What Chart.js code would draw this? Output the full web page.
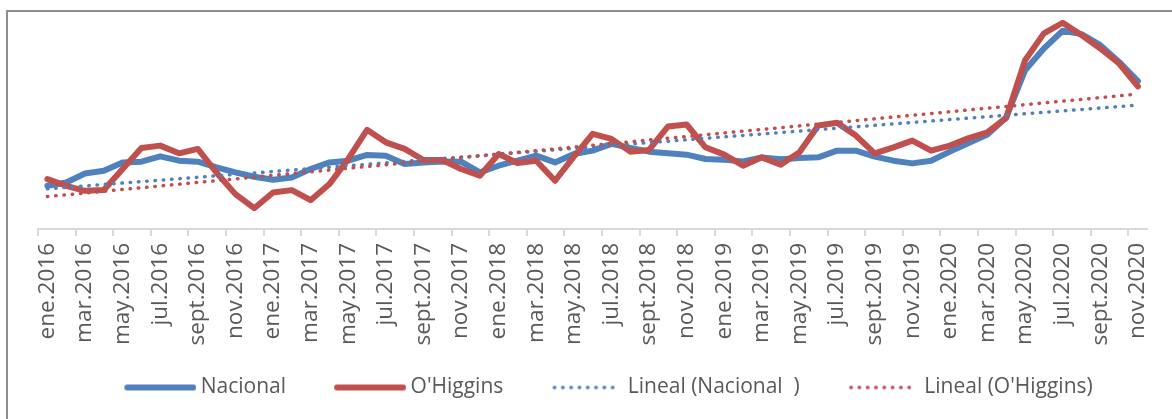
<!DOCTYPE html>
<html>
<head>
<meta charset="utf-8">
<script src="https://cdn.jsdelivr.net/npm/chart.js@4/dist/chart.umd.min.js"></script>
<style>
   body { margin:0; overflow:hidden; background:#ffffff; }
   #wrap { position:absolute; left:0; top:0; width:1172px; height:419px; }
   #frame {
      position:absolute; left:6px; top:10px;
      width:1250px; height:600px;
      border:2px solid #8e8e8e;
      pointer-events:none;
   }
</style>
</head>
<body>
<div id="wrap">
   <canvas id="grafico" width="1172" height="419"></canvas>
</div>
<div id="frame"></div>

<script>

let meses = [
   "ene.2016","feb.2016","mar.2016","abr.2016","may.2016","jun.2016",
   "jul.2016","ago.2016","sept.2016","oct.2016","nov.2016","dic.2016",
   "ene.2017","feb.2017","mar.2017","abr.2017","may.2017","jun.2017",
   "jul.2017","ago.2017","sept.2017","oct.2017","nov.2017","dic.2017",
   "ene.2018","feb.2018","mar.2018","abr.2018","may.2018","jun.2018",
   "jul.2018","ago.2018","sept.2018","oct.2018","nov.2018","dic.2018",
   "ene.2019","feb.2019","mar.2019","abr.2019","may.2019","jun.2019",
   "jul.2019","ago.2019","sept.2019","oct.2019","nov.2019","dic.2019",
   "ene.2020","feb.2020","mar.2020","abr.2020","may.2020","jun.2020",
   "jul.2020","ago.2020","sept.2020","oct.2020","nov.2020"
];

let nacional = [
   43, 46.3, 55.3, 58, 66.3, 67, 72.3, 68, 67, 61.3,
   56.3, 52, 49, 51.3, 59.7, 66.3, 68, 73.7, 73, 64.7,
   66.3, 67.3, 67, 56.3, 63, 68, 73, 66.3, 74.7, 78,
   84.7, 80.7, 77, 75.3, 74, 69.7, 69, 67.3, 71.3, 69.5,
   70.7, 71.3, 78, 78, 72, 68, 65.3, 68, 77, 85.5,
   94, 111.3, 158, 179.7, 197.3, 194, 183, 166.3, 147.3
];

let ohiggins = [
   49.7, 43, 38, 38.7, 59.7, 80.7, 83, 75.3, 79.7, 56,
   34.7, 20.7, 36.3, 38.7, 28.7, 44.7, 69.7, 98.7, 86.3, 79.7,
   68.7, 68.7, 59.7, 53, 74.7, 65.7, 68, 48, 72, 94.7,
   89.7, 77, 78.7, 102, 104, 81.3, 74, 63, 71.3, 64,
   76.3, 103, 105.7, 93, 75.3, 81.3, 88, 78, 83, 90.5,
   96.3, 110.7, 168, 194.7, 205.3, 193, 179.7, 164.7, 142
];

/* extremos de las lineas de tendencia */
let tendenciaMeses = ["ene.2016","nov.2020"];
let tendenciaNacional = [40, 123.3];
let tendenciaOHiggins = [32.3, 134.3];

let azul = "#4F81BD";
let rojo = "#C0504D";
let gris = "#595959";
let fuente = "'Open Sans', 'Noto Sans', sans-serif";

let huecoLeyenda = 26;

function puntosTendencia(valores){

   return tendenciaMeses.map(function(m, i){

      return { x: m, y: valores[i] };

   });

}

/* muestra de linea para la leyenda (con hueco transparente a la izquierda) */
function muestraLinea(color, grosor, punteado){

   let c = document.createElement("canvas");
   c.width = huecoLeyenda + 72;
   c.height = 10;

   let g = c.getContext("2d");
   g.strokeStyle = color;
   g.lineWidth = grosor;
   g.lineCap = "round";

   if(punteado) g.setLineDash([0.5, 7.8]);

   g.beginPath();
   g.moveTo(huecoLeyenda + 3, 5);
   g.lineTo(huecoLeyenda + 69, 5);
   g.stroke();

   return c;

}

let ctx = document.getElementById("grafico").getContext("2d");

new Chart(ctx, {

   type: "line",

   data: {

      labels: meses,

      datasets: [
         {
            label: "Nacional",
            data: nacional,
            borderColor: azul,
            backgroundColor: azul,
            borderWidth: 6,
            borderCapStyle: "round",
            borderJoinStyle: "round",
            pointRadius: 0,
            pointStyle: muestraLinea(azul, 6, false),
            tension: 0,
            order: 4
         },
         {
            label: "O'Higgins",
            data: ohiggins,
            borderColor: rojo,
            backgroundColor: rojo,
            borderWidth: 6,
            borderCapStyle: "round",
            borderJoinStyle: "round",
            pointRadius: 0,
            pointStyle: muestraLinea(rojo, 6, false),
            tension: 0,
            order: 3
         },
         {
            label: "Lineal (Nacional  )",
            data: puntosTendencia(tendenciaNacional),
            borderColor: azul,
            backgroundColor: azul,
            borderWidth: 3.5,
            borderDash: [0.5, 7.8],
            borderCapStyle: "round",
            pointRadius: 0,
            pointStyle: muestraLinea(azul, 3.5, true),
            order: 2
         },
         {
            label: "Lineal (O'Higgins)",
            data: puntosTendencia(tendenciaOHiggins),
            borderColor: rojo,
            backgroundColor: rojo,
            borderWidth: 3.5,
            borderDash: [0.5, 7.8],
            borderCapStyle: "round",
            pointRadius: 0,
            pointStyle: muestraLinea(rojo, 3.5, true),
            order: 1
         }
      ]

   },

   options: {

      responsive: false,
      animation: false,

      layout: {
         padding: { top: 14, left: 38, right: 13, bottom: 11 }
      },

      plugins: {

         tooltip: { enabled: false },

         legend: {
            position: "bottom",
            labels: {
               usePointStyle: true,
               /* la imagen sobresale 6px a cada lado, asi el texto queda mas cerca */
               pointStyleWidth: huecoLeyenda + 60,
               padding: 28,
               color: gris,
               font: { family: fuente, size: 21 },
               sort: function(a, b){
                  return a.datasetIndex - b.datasetIndex;
               }
            }
         }

      },

      scales: {

         x: {
            offset: true,
            afterFit: function(scale){
               scale.height = 120;
            },
            grid: {
               offset: true,
               drawOnChartArea: false,
               drawTicks: true,
               tickLength: 7,
               lineWidth: 2,
               color: function(c){
                  return c.index % 2 === 0 ? "#d9d9d9" : "rgba(0,0,0,0)";
               }
            },
            border: { display: true, color: "#d9d9d9", width: 2 },
            ticks: {
               autoSkip: false,
               minRotation: 90,
               maxRotation: 90,
               padding: 7,
               color: gris,
               font: { family: fuente, size: 22.5 },
               callback: function(val, idx){
                  return idx % 2 === 0 ? this.getLabelForValue(val) : "";
               }
            }
         },

         y: {
            display: false,
            min: 0,
            max: 214
         }

      }

   }

});

</script>
</body>
</html>
